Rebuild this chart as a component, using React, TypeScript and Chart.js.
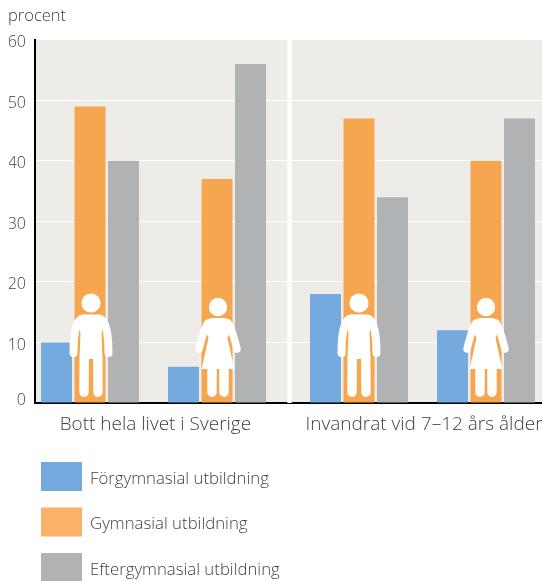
import React, { useEffect, useRef } from "react";
import { Chart, registerables } from "chart.js";

Chart.register(...registerables);

const groupNames = ["Bott hela livet i Sverige", "Invandrat vid 7–12 års ålder"];
const figures = ["man", "woman", "man", "woman"];
const seriesNames = ["Förgymnasial utbildning", "Gymnasial utbildning", "Eftergymnasial utbildning"];
const forgymnasial = [10, 6, 18, 12];
const gymnasial = [49, 37, 47, 40];
const eftergymnasial = [40, 56, 34, 47];
const yTicks = [0, 10, 20, 30, 40, 50, 60];
const clusterPositions = [0, 1, 2.118, 3.118];
const groupLabelPositions = [0.515, 2.63];

const FONT = '"Open Sans", sans-serif';
const TEXT = "#3f3f41";
const BG = "#edece8";
const BLUE = "#75aadf";
const ORANGE = "#f7a650";
const ORANGE_LEGEND = "#f9b267";
const GREY = "#b1b2b4";

function limb(ctx: CanvasRenderingContext2D, pts: number[][], w: number) {
  ctx.lineWidth = w;
  ctx.lineCap = "round";
  ctx.lineJoin = "round";
  ctx.beginPath();
  ctx.moveTo(pts[0][0], pts[0][1]);
  if (pts.length === 3) ctx.quadraticCurveTo(pts[1][0], pts[1][1], pts[2][0], pts[2][1]);
  else ctx.lineTo(pts[1][0], pts[1][1]);
  ctx.stroke();
}

function drawMan(ctx: CanvasRenderingContext2D) {
  ctx.beginPath();
  ctx.arc(0, -100, 9.6, 0, Math.PI * 2);
  ctx.fill();
  ctx.beginPath();
  ctx.moveTo(-11.5, -44);
  ctx.lineTo(-10.5, -70);
  ctx.lineTo(-13, -78);
  ctx.quadraticCurveTo(-12, -88, -7, -88.5);
  ctx.lineTo(7, -88.5);
  ctx.quadraticCurveTo(12, -88, 13, -78);
  ctx.lineTo(10.5, -70);
  ctx.lineTo(11.5, -44);
  ctx.closePath();
  ctx.fill();
  limb(ctx, [[-8, -84.5], [-17.5, -84], [-17.5, -50]], 8);
  limb(ctx, [[8, -84.5], [17.5, -84], [17.5, -50]], 8);
  limb(ctx, [[-6.8, -44], [-7, -10.7]], 9.4);
  limb(ctx, [[6.8, -44], [7, -10.7]], 9.4);
}

function drawWoman(ctx: CanvasRenderingContext2D) {
  ctx.beginPath();
  ctx.arc(0, -96, 9.2, 0, Math.PI * 2);
  ctx.fill();
  ctx.beginPath();
  ctx.moveTo(-16.3, -34);
  ctx.lineTo(-9.5, -65);
  ctx.lineTo(-14, -76);
  ctx.quadraticCurveTo(-11, -85, -6, -85);
  ctx.lineTo(6, -85);
  ctx.quadraticCurveTo(11, -85, 14, -76);
  ctx.lineTo(9.5, -65);
  ctx.lineTo(16.3, -34);
  ctx.closePath();
  ctx.fill();
  limb(ctx, [[-10, -80], [-13.5, -76], [-19, -54]], 7.5);
  limb(ctx, [[10, -80], [13.5, -76], [19, -54]], 7.5);
  limb(ctx, [[-6, -36], [-6, -10.7]], 9.4);
  limb(ctx, [[6, -36], [6, -10.7]], 9.4);
}

const decorations = {
  id: "decorations",
  beforeDatasetsDraw(chart: any) {
    const { ctx, chartArea: a, scales } = chart;
    const xMid = scales.x.getPixelForValue(1.571);
    ctx.save();
    ctx.fillStyle = "#ffffff";
    ctx.fillRect(xMid - 2.2, a.top, 4.4, a.bottom - a.top);
    ctx.restore();
  },
  beforeDraw(chart: any) {
    const { ctx, chartArea: a, scales } = chart;
    ctx.save();
    ctx.fillStyle = BG;
    ctx.fillRect(a.left, a.top, a.right - a.left, a.bottom - a.top);
    ctx.restore();
    // the reference sets its y labels just below the gridlines, and the 0 just above the axis
    for (const item of scales.y.getLabelItems()) {
      item.options.translation[1] += item.label === "0" ? -3 : 3;
    }
  },
  afterDatasetsDraw(chart: any) {
    const { ctx, scales } = chart;
    const y0 = scales.y.getPixelForValue(0);
    figures.forEach((f, i) => {
      ctx.save();
      ctx.translate(scales.x.getPixelForValue(clusterPositions[i]) + (i < 2 ? 1 : 0), y0);
      ctx.fillStyle = "#ffffff";
      ctx.strokeStyle = "#ffffff";
      if (f === "man") drawMan(ctx);
      else drawWoman(ctx);
      ctx.restore();
    });
  },
  afterDraw(chart: any) {
    // legend captions sit a little below the swatch centres in the reference
    const { ctx, legend } = chart;
    ctx.save();
    ctx.fillStyle = TEXT;
    ctx.font = `300 16.8px ${FONT}`;
    ctx.textBaseline = "middle";
    ctx.textAlign = "left";
    seriesNames.forEach((name, i) => {
      ctx.fillText(name, 90, legend.top + 16.5 + i * 45.5 + 17);
    });
    ctx.restore();
  },
  afterLayout(chart: any) {
    const legend = chart.legend;
    legend.left = 24.5;
    legend.right = 400;
    legend.top = 445.5;
    legend.bottom = 625.5;
  },
};

export default function App() {
  const ref = useRef<HTMLCanvasElement | null>(null);
  useEffect(() => {
    document.body.style.margin = "0";
    const colors = [BLUE, ORANGE, GREY];
    const values = [forgymnasial, gymnasial, eftergymnasial];
    const chart = new Chart(ref.current as HTMLCanvasElement, {
      type: "bar",
      data: {
        datasets: seriesNames.map((label, s) => ({
          label,
          backgroundColor: colors[s],
          data: clusterPositions.map((x, i) => ({ x, y: values[s][i] })),
          categoryPercentage: 0.7913,
          barPercentage: 0.925,
        })),
      },
      options: {
        animation: false,
        responsive: false,
        layout: { padding: { left: 8, right: 0, top: 0, bottom: 138 } },
        plugins: {
          tooltip: { enabled: false },
          title: {
            display: true,
            text: "procent",
            align: "start",
            color: TEXT,
            font: { family: FONT, size: 16.5, weight: "300" },
            padding: { top: 6, bottom: 14 },
          },
          legend: {
            position: "left",
            align: "start",
            maxWidth: 1,
            labels: {
              boxWidth: 41,
              boxHeight: 29,
              padding: 16.5,
              font: { family: FONT, size: 16.5, weight: "300" },
              generateLabels: () =>
                seriesNames.map((_text, i) => ({
                  text: "",
                  fillStyle: [BLUE, ORANGE_LEGEND, GREY][i],
                  strokeStyle: "transparent",
                  lineWidth: 0,
                  datasetIndex: i,
                })),
            },
          },
        },
        scales: {
          x: {
            type: "linear",
            offset: false,
            min: -0.433,
            max: 3.559,
            grid: { display: false, drawTicks: false },
            border: { color: "#000000", width: 2 },
            afterBuildTicks: (s: any) => {
              s.ticks = groupLabelPositions.map((value) => ({ value }));
            },
            afterFit: (s: any) => {
              s.height = 40;
              s.paddingLeft = 0;
              s.paddingRight = 0;
            },
            ticks: {
              autoSkip: false,
              maxRotation: 0,
              padding: 10,
              color: TEXT,
              font: { family: FONT, size: 19, weight: "300" },
              callback: (_v: any, i: number) => groupNames[i],
            },
          },
          y: {
            min: 0,
            max: 60,
            afterBuildTicks: (s: any) => {
              s.ticks = yTicks.map((value) => ({ value }));
            },
            afterFit: (s: any) => {
              s.width = 26;
            },
            grid: { color: "#ffffff", lineWidth: 1, drawTicks: false },
            border: { color: "#000000", width: 2 },
            ticks: {
              padding: 9,
              color: TEXT,
              font: { family: FONT, size: 16, weight: "300" },
            },
          },
        },
      },
      plugins: [decorations],
    } as any);
    return () => chart.destroy();
  }, []);
  return <canvas ref={ref} width={542} height={581} style={{ display: "block" }} />;
}
